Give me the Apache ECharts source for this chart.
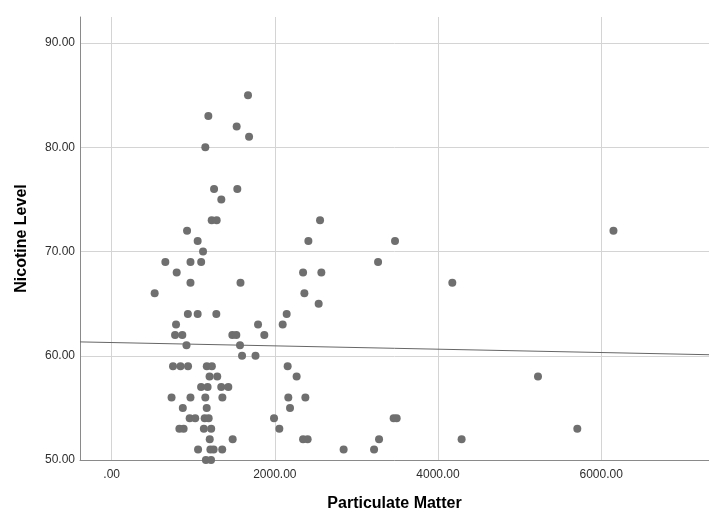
<!DOCTYPE html>
<html>
<head>
<meta charset="utf-8">
<script src="https://cdn.jsdelivr.net/npm/echarts@6/dist/echarts.min.js"></script>
<style>
html,body{margin:0;padding:0;background:#fff;}
#c{width:709px;height:517px;}
</style>
</head>
<body>
<div id="c"></div>
<script>
// Particulate matter (x) and nicotine level (y)
const particulate = [
  1671, 1185, 1532, 1684, 1148, 1255, 1540, 1344,
  1226, 1287, 2554, 924, 6150, 1054, 2411, 3473, 1120,
  658, 966, 1097, 3265, 797, 2346, 2570, 966, 1579, 4175,
  527, 2362, 2537, 934, 1054, 1283, 2145, 789, 1794, 2096,
  777, 866, 1479, 1528, 1871, 917, 1573, 1598, 1763,
  752, 844, 936, 1166, 1228, 2157, 1200, 1294, 2267, 5225,
  1096, 1176, 1343, 1430, 734, 966, 1148, 1357, 2165, 2374,
  872, 1165, 2186, 956, 1024, 1140, 1189, 1990, 3456, 3493,
  830, 882, 1130, 1220, 2055, 5707, 1202, 1483, 2346, 2402, 3277, 4289,
  1059, 1210, 1250, 1355, 2843, 3216, 1155, 1218
];
const nicotine = [
  85, 83, 82, 81, 80, 76, 76, 75,
  73, 73, 73, 72, 72, 71, 71, 71, 70,
  69, 69, 69, 69, 68, 68, 68, 67, 67, 67,
  66, 66, 65, 64, 64, 64, 64, 63, 63, 63,
  62, 62, 62, 62, 62, 61, 61, 60, 60,
  59, 59, 59, 59, 59, 59, 58, 58, 58, 58,
  57, 57, 57, 57, 56, 56, 56, 56, 56, 56,
  55, 55, 55, 54, 54, 54, 54, 54, 54, 54,
  53, 53, 53, 53, 53, 53, 52, 52, 52, 52, 52, 52,
  51, 51, 51, 51, 51, 51, 50, 50
];
// Fit line endpoints (x, y) read at the plot edges
const fitX = [-388, 7321];
const fitY = [61.33, 60.10];
const xTicks = [0, 2000, 4000, 6000];
const yTicks = [50, 60, 70, 80, 90];

const points = particulate.map((x, i) => [x, nicotine[i]]);
const fit = fitX.map((x, i) => [x, fitY[i]]);

const chart = echarts.init(document.getElementById('c'), null, {renderer: 'canvas'});
const fontFam = '"Liberation Sans", Arial, sans-serif';
chart.setOption({
  animation: false,
  backgroundColor: '#ffffff',
  grid: {left: 80, right: 0, top: 17, bottom: 55, containLabel: false},
  xAxis: {
    type: 'value',
    min: -388, max: 7321,
    name: 'Particulate Matter',
    nameLocation: 'middle',
    nameGap: 36,
    nameTextStyle: {fontFamily: fontFam, fontSize: 16, fontWeight: 'bold', color: '#000'},
    axisLine: {show: true, onZero: false, lineStyle: {color: '#8a8a8a', width: 1}},
    axisTick: {show: false, customValues: xTicks},
    axisLabel: {
      customValues: xTicks,
      margin: 9,
      fontFamily: fontFam, fontSize: 12, color: '#2e2e2e',
      formatter: v => v === 0 ? '.00' : v.toFixed(2)
    },
    splitLine: {show: true, lineStyle: {color: '#d4d4d4', width: 1}}
  },
  yAxis: {
    type: 'value',
    min: 50, max: 92.5,
    name: 'Nicotine Level',
    nameLocation: 'middle',
    nameGap: 50,
    nameRotate: 90,
    nameTextStyle: {fontFamily: fontFam, fontSize: 16, fontWeight: 'bold', color: '#000'},
    axisLine: {show: true, onZero: false, lineStyle: {color: '#8a8a8a', width: 1}},
    axisTick: {show: false, customValues: yTicks},
    axisLabel: {
      customValues: yTicks,
      margin: 5,
      padding: [4, 0, 0, 0],
      fontFamily: fontFam, fontSize: 12, color: '#2e2e2e',
      formatter: v => v.toFixed(2)
    },
    splitLine: {show: true, lineStyle: {color: '#d4d4d4', width: 1}}
  },
  series: [
    {
      type: 'scatter',
      data: points,
      symbol: 'circle',
      symbolSize: 8,
      itemStyle: {color: '#6f6f6f', opacity: 1},
      z: 3
    },
    {
      type: 'line',
      data: fit,
      symbol: 'none',
      lineStyle: {color: '#666', width: 1},
      clip: true,
      z: 2
    }
  ]
});
</script>
</body>
</html>
